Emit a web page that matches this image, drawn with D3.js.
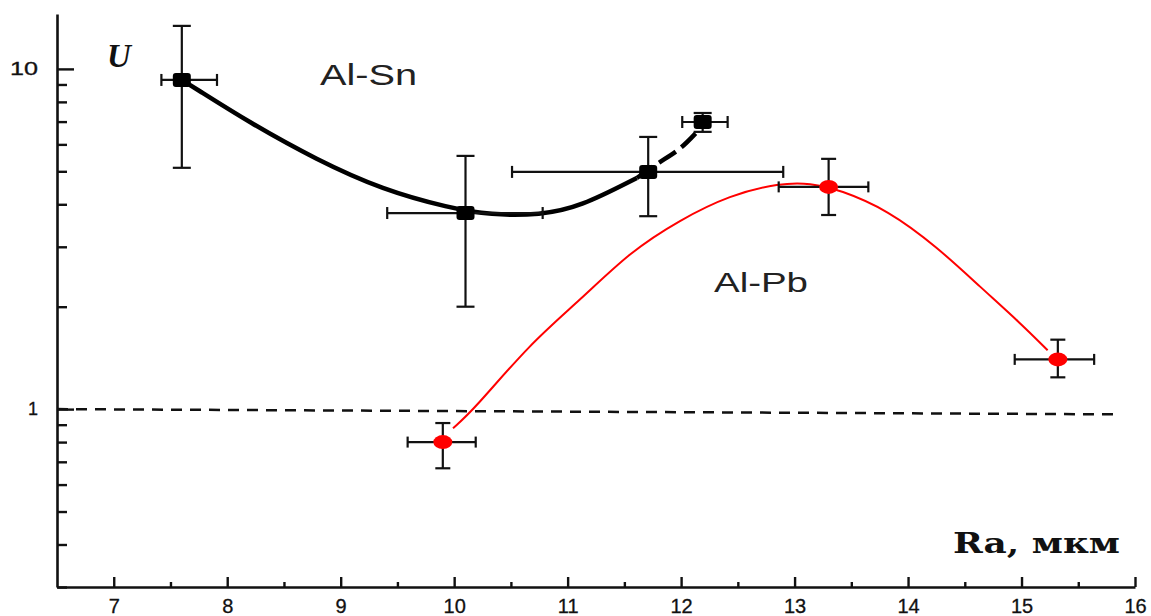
<!DOCTYPE html>
<html>
<head>
<meta charset="utf-8">
<script src="https://cdn.jsdelivr.net/npm/d3@7.9.0/dist/d3.min.js"></script>
<style>
  body { margin: 0; background: #fff; }
  svg { display: block; }
</style>
</head>
<body>
<svg id="chart" width="1151" height="616"></svg>
<script>
// Al-Sn measurements (black squares)
const snX    = [7.60, 10.10, 11.71, 12.19];
const snY    = [9.28, 3.77, 4.98, 6.98];
const snXLo  = [7.42, 9.41, 10.51, 12.01];
const snXHi  = [7.91, 10.78, 12.90, 12.41];
const snYLo  = [5.12, 2.00, 3.69, 6.53];
const snYHi  = [13.38, 5.55, 6.31, 7.42];

// Al-Pb measurements (red circles)
const pbX    = [9.90, 13.30, 15.32];
const pbY    = [0.80, 4.50, 1.40];
const pbXLo  = [9.59, 12.86, 14.94];
const pbXHi  = [10.19, 13.65, 15.64];
const pbYLo  = [0.67, 3.72, 1.24];
const pbYHi  = [0.91, 5.44, 1.60];

// fitted curves
const snFitX = [7.60, 7.70, 8.20, 8.79, 9.37, 9.96, 10.32, 10.76, 11.11, 11.61, 11.81, 11.99, 12.14];
const snFitY = [9.28, 8.85, 6.94, 5.40, 4.41, 3.90, 3.72, 3.72, 3.93, 4.78, 5.33, 5.78, 6.53];
const pbFitX = [9.99, 10.17, 10.67, 11.11, 11.55, 11.99, 12.43, 12.87, 13.14, 13.40, 13.82, 14.26, 14.64, 14.99, 15.23];
const pbFitY = [0.879, 0.993, 1.56, 2.09, 2.90, 3.60, 4.26, 4.62, 4.62, 4.41, 3.85, 2.99, 2.28, 1.79, 1.49];

// reference level U = 1
const refX = [6.5, 15.87];
const refY = [1, 0.965];

const xTicks = [7, 8, 9, 10, 11, 12, 13, 14, 15, 16];
const xMinor = [7.5, 8.5, 9.5, 10.5, 11.5, 12.5, 13.5, 14.5, 15.5];
const yTicks = [1, 10];
const yMinor = [0.3, 0.4, 0.5, 0.6, 0.7, 0.8, 0.9, 2, 3, 4, 5, 6, 7, 8, 9];

const svg = d3.select('#chart');

const x = d3.scaleLinear().domain([6.5, 16]).range([57, 1135]);
const y = d3.scaleLog().domain([0.3, 14.5]).range([587, 14]);

const sans = '"Liberation Sans", Arial, sans-serif';

// axes
let xAxis = svg.append('g')
    .attr('transform', `translate(0,${y(0.3)})`)
    .call(d3.axisBottom(x).tickValues(xTicks).tickFormat(d3.format('d'))
        .tickSizeInner(-10).tickSizeOuter(0).tickPadding(12));
svg.append('g')
    .attr('transform', `translate(0,${y(0.3)})`)
    .call(d3.axisBottom(x).tickValues(xMinor).tickFormat('')
        .tickSizeInner(-5).tickSizeOuter(0))
    .select('.domain').remove();

let yAxis = svg.append('g')
    .attr('transform', `translate(${x(6.5)},0)`)
    .call(d3.axisLeft(y).tickValues(yTicks).tickFormat(d3.format('d'))
        .tickSizeInner(-17).tickSizeOuter(0).tickPadding(19));
svg.append('g')
    .attr('transform', `translate(${x(6.5)},0)`)
    .call(d3.axisLeft(y).tickValues(yMinor).tickFormat('')
        .tickSizeInner(-10).tickSizeOuter(0))
    .select('.domain').remove();

svg.selectAll('.domain').attr('stroke', '#111').attr('stroke-width', 2.6);
svg.selectAll('.tick line').attr('stroke', '#111').attr('stroke-width', 2.4);
xAxis.selectAll('text').attr('font-family', sans).attr('font-size', 20).attr('fill', '#111')
    .attr('stroke', '#111').attr('stroke-width', 0.3);
yAxis.selectAll('text').attr('font-family', sans).attr('font-size', 18).attr('fill', '#111')
    .attr('stroke', '#111').attr('stroke-width', 0.3)
    .attr('textLength', d => d === 10 ? 28 : null).attr('lengthAdjust', 'spacingAndGlyphs');

// dashed U = 1 line
svg.append('path')
    .attr('d', d3.line().x(d => x(d[0])).y(d => y(d[1]))(d3.zip(refX, refY)))
    .attr('fill', 'none').attr('stroke', '#111').attr('stroke-width', 2.5)
    .attr('stroke-dasharray', '11,8');

// fit curves
const fitLine = d3.line().x(d => x(d[0])).y(d => y(d[1])).curve(d3.curveBasis);
const snFit = d3.zip(snFitX, snFitY);
svg.append('path')
    .attr('d', fitLine(snFit.filter(d => d[0] <= 11.61)))
    .attr('fill', 'none').attr('stroke', '#000').attr('stroke-width', 4.5);
svg.append('path')
    .attr('d', fitLine(snFit.filter(d => d[0] >= 11.61)))
    .attr('fill', 'none').attr('stroke', '#000').attr('stroke-width', 4.5)
    .attr('stroke-dasharray', '20,7');

svg.append('path')
    .attr('d', fitLine(d3.zip(pbFitX, pbFitY)))
    .attr('fill', 'none').attr('stroke', '#ff0000').attr('stroke-width', 2);

// error bars
function errorBars(xs, ys, xlo, xhi, ylo, yhi, capY, capX) {
    let g = svg.append('g').attr('stroke', '#111').attr('stroke-width', 2.2);
    xs.forEach((xv, i) => {
        g.append('line').attr('x1', x(xv)).attr('x2', x(xv)).attr('y1', y(ylo[i])).attr('y2', y(yhi[i]));
        g.append('line').attr('x1', x(xlo[i])).attr('x2', x(xhi[i])).attr('y1', y(ys[i])).attr('y2', y(ys[i]));
        [ylo[i], yhi[i]].forEach(v => g.append('line')
            .attr('x1', x(xv) - capY).attr('x2', x(xv) + capY).attr('y1', y(v)).attr('y2', y(v)));
        [xlo[i], xhi[i]].forEach(v => g.append('line')
            .attr('x1', x(v)).attr('x2', x(v)).attr('y1', y(ys[i]) - capX).attr('y2', y(ys[i]) + capX));
    });
}
errorBars(snX, snY, snXLo, snXHi, snYLo, snYHi, 9, 6);
errorBars(pbX, pbY, pbXLo, pbXHi, pbYLo, pbYHi, 7.5, 5.5);

// markers
svg.selectAll('rect.sn').data(d3.zip(snX, snY)).join('rect')
    .attr('class', 'sn')
    .attr('x', d => x(d[0]) - 9).attr('y', d => y(d[1]) - 7)
    .attr('width', 18).attr('height', 14).attr('rx', 3)
    .attr('fill', '#000');
svg.selectAll('ellipse.pb').data(d3.zip(pbX, pbY)).join('ellipse')
    .attr('class', 'pb')
    .attr('cx', d => x(d[0])).attr('cy', d => y(d[1]))
    .attr('rx', 9.5).attr('ry', 7)
    .attr('fill', '#ff0000');

// labels
svg.append('text').text('Al-Sn')
    .attr('x', 320).attr('y', 85)
    .attr('font-family', sans).attr('font-size', 29).attr('fill', '#222')
    .attr('textLength', 97).attr('lengthAdjust', 'spacingAndGlyphs');
svg.append('text').text('Al-Pb')
    .attr('x', 714).attr('y', 292)
    .attr('font-family', sans).attr('font-size', 28).attr('fill', '#222')
    .attr('textLength', 94).attr('lengthAdjust', 'spacingAndGlyphs');
svg.append('text').text('U')
    .attr('x', 107).attr('y', 67)
    .attr('font-family', '"Liberation Serif", "DejaVu Serif", serif')
    .attr('font-size', 33).attr('font-style', 'italic').attr('font-weight', 'bold').attr('fill', '#111');
svg.append('text').text('Ra, мкм')
    .attr('x', 953).attr('y', 553)
    .attr('font-family', '"DejaVu Serif", "Liberation Serif", serif')
    .attr('font-size', 27).attr('font-weight', 'bold').attr('fill', '#111')
    .attr('textLength', 167).attr('lengthAdjust', 'spacingAndGlyphs');
</script>
</body>
</html>
